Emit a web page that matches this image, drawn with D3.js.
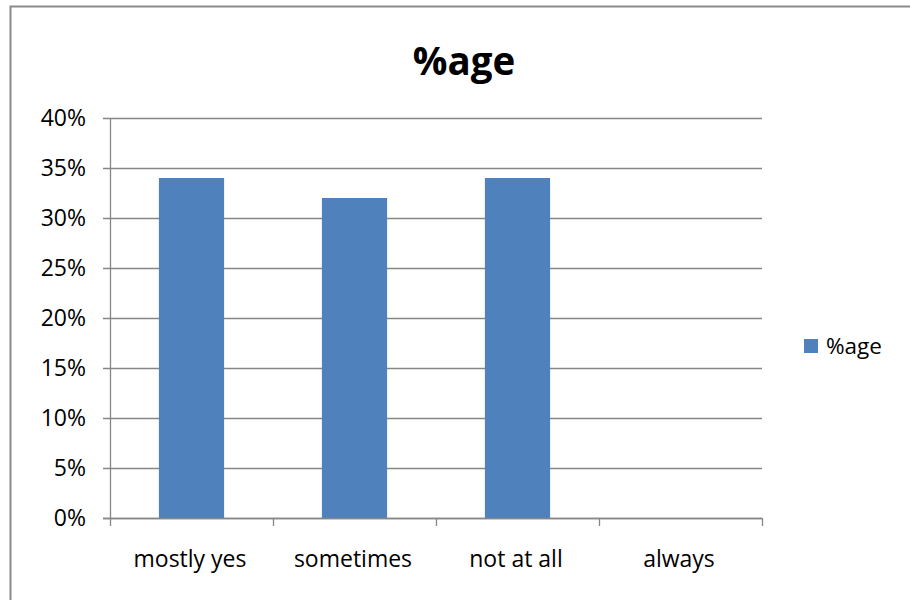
<!DOCTYPE html>
<html>
<head>
<meta charset="utf-8">
<script src="https://cdn.jsdelivr.net/npm/d3@7"></script>
<style>
body { margin: 0; background: #fff; }
svg { display: block; font-family: "Open Sans", "Noto Sans", sans-serif; }
</style>
</head>
<body>
<svg id="chart" width="910" height="600"></svg>
<script>
const categories = ["mostly yes", "sometimes", "not at all", "always"];
const values = [0.34, 0.32, 0.34, 0];
const yTicks = [0, 0.05, 0.10, 0.15, 0.20, 0.25, 0.30, 0.35, 0.40];
const seriesName = "%age";
const titleText = "%age";

const svg = d3.select("#chart");
const plot = { left: 110, right: 762, top: 118, bottom: 518 };
const barColor = "#4F81BD";
const gridColor = "#868686";

// outer frame
svg.append("rect").attr("x", 10.5).attr("y", 6.5).attr("width", 1000).attr("height", 1000)
  .attr("fill", "none").attr("stroke", "#8a8a8a").attr("stroke-width", 2);

const x = d3.scaleBand().domain(categories).range([plot.left, plot.right]).paddingInner(0.6).paddingOuter(0.3);
const y = d3.scaleLinear().domain([0, 0.40]).range([plot.bottom, plot.top]);

// gridlines
svg.append("g").selectAll("line").data(yTicks).join("line")
  .attr("x1", plot.left - 7).attr("x2", plot.right)
  .attr("y1", d => Math.round(y(d)) + 0.5).attr("y2", d => Math.round(y(d)) + 0.5)
  .attr("stroke", gridColor).attr("stroke-width", 1.3);

// y axis line
svg.append("line").attr("x1", plot.left + 0.5).attr("x2", plot.left + 0.5)
  .attr("y1", plot.top).attr("y2", plot.bottom)
  .attr("stroke", gridColor).attr("stroke-width", 1.3);

// y labels
svg.append("g").selectAll("text").data(yTicks).join("text")
  .attr("x", 86).attr("y", d => y(d))
  .attr("dy", "0.36em").attr("text-anchor", "end")
  .attr("font-size", 23).attr("fill", "#000")
  .text(d => d3.format(".0%")(d));

// bars
svg.append("g").selectAll("rect").data(values).join("rect")
  .attr("x", (d, i) => x(categories[i]))
  .attr("y", d => y(d))
  .attr("width", x.bandwidth())
  .attr("height", d => y(0) - y(d))
  .attr("fill", barColor);

// x axis line and ticks
const step = (plot.right - plot.left) / categories.length;
svg.append("line").attr("x1", plot.left - 7).attr("x2", plot.right)
  .attr("y1", plot.bottom + 0.5).attr("y2", plot.bottom + 0.5)
  .attr("stroke", gridColor).attr("stroke-width", 1.3);
svg.append("g").selectAll("line").data(d3.range(categories.length + 1)).join("line")
  .attr("x1", i => Math.round(plot.left + i * step) + 0.5)
  .attr("x2", i => Math.round(plot.left + i * step) + 0.5)
  .attr("y1", plot.bottom).attr("y2", plot.bottom + 8)
  .attr("stroke", gridColor).attr("stroke-width", 1.3);

// x labels
svg.append("g").selectAll("text").data(categories).join("text")
  .attr("x", d => x(d) + x.bandwidth() / 2 - 1.5).attr("y", 567)
  .attr("text-anchor", "middle").attr("font-size", 23).attr("fill", "#000")
  .text(d => d);

// title
svg.append("text").attr("x", 464).attr("y", 75).attr("text-anchor", "middle")
  .attr("font-size", 38.5).attr("font-weight", "bold").attr("fill", "#000").text(titleText);

// legend
svg.append("rect").attr("x", 804).attr("y", 339).attr("width", 14).attr("height", 14).attr("fill", barColor);
svg.append("text").attr("x", 826).attr("y", 354).attr("font-size", 22.5).attr("fill", "#000").text(seriesName);
</script>
</body>
</html>
